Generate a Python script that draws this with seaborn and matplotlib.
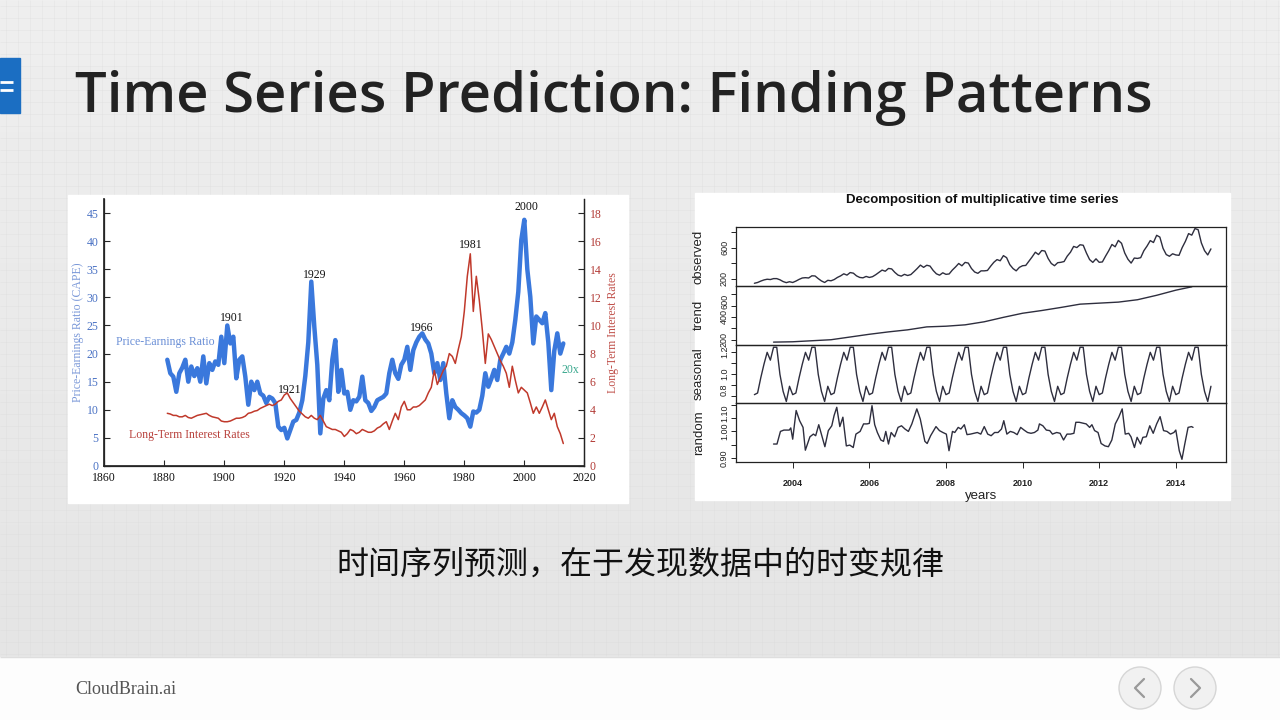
import numpy as np
import matplotlib
matplotlib.use("Agg")
import matplotlib.pyplot as plt
import seaborn as sns
from matplotlib.patches import Rectangle, Circle
from matplotlib.colors import LinearSegmentedColormap

sns.set_theme(style="ticks")
plt.rcParams['font.family'] = ['DejaVu Sans', 'Noto Sans CJK SC']

# ---------------- Left chart data (Shiller CAPE & long-term rates) ----------------
cape_years = list(range(1881, 2014))
cape = [
    18.9, 16.5, 15.9, 13.2, 16.5, 17.5, 18.9, 15.0, 17.7, 16.0,   # 1881-1890
    17.4, 15.0, 19.5, 14.7, 18.3, 17.1, 18.6, 18.0, 23.0, 18.3,   # 1891-1900
    25.0, 21.8, 23.0, 15.6, 18.9, 19.5, 15.9, 10.9, 15.0, 13.5,   # 1901-1910
    15.0, 12.9, 12.5, 11.2, 12.3, 12.0, 11.2, 7.0, 6.4, 6.8,      # 1911-1920
    4.9, 6.4, 7.9, 8.2, 9.5, 11.7, 16.0, 22.0, 32.8, 24.8,        # 1921-1930
    18.0, 5.8, 12.0, 13.5, 11.7, 18.9, 22.4, 13.2, 17.1, 12.9,    # 1931-1940
    13.2, 10.0, 11.7, 11.5, 12.3, 15.9, 11.7, 11.2, 9.8, 10.5,    # 1941-1950
    11.7, 12.0, 12.3, 12.9, 16.5, 18.9, 16.5, 15.5, 18.0, 18.9,   # 1951-1960
    21.2, 17.1, 20.6, 22.0, 23.0, 23.6, 22.5, 21.8, 20.0, 16.5,   # 1961-1970
    18.3, 15.3, 18.3, 12.9, 8.5, 11.7, 10.5, 10.0, 9.4, 9.0,      # 1971-1980
    8.5, 7.0, 9.7, 9.5, 10.0, 12.5, 16.5, 14.1, 15.5, 17.1,       # 1981-1990
    15.3, 18.9, 20.0, 21.2, 20.0, 22.0, 26.0, 31.0, 40.2, 43.8,   # 1991-2000
    35.0, 30.1, 21.8, 26.6, 26.0, 25.4, 27.2, 22.0, 13.5, 20.5,   # 2001-2010
    23.6, 20.0, 21.8,                                             # 2011-2013
]
rate = [
    3.75, 3.7, 3.6, 3.6, 3.5, 3.5, 3.6, 3.45, 3.4, 3.5,
    3.6, 3.65, 3.7, 3.75, 3.6, 3.5, 3.45, 3.4, 3.2, 3.15,
    3.15, 3.2, 3.3, 3.4, 3.4, 3.45, 3.55, 3.75, 3.8, 3.9,
    3.95, 4.1, 4.2, 4.3, 4.4, 4.3, 4.4, 4.6, 4.7, 5.05,
    5.2, 4.8, 4.5, 4.2, 3.9, 3.7, 3.5, 3.4, 3.6, 3.4,
    3.3, 3.6, 3.2, 2.8, 2.7, 2.6, 2.6, 2.5, 2.4, 2.1,
    2.3, 2.6, 2.5, 2.3, 2.4, 2.6, 2.5, 2.4, 2.4, 2.5,
    2.7, 2.8, 3.0, 3.15, 2.6, 3.2, 3.75, 3.3, 4.2, 4.6,
    4.0, 4.0, 4.2, 4.2, 4.3, 4.5, 4.7, 5.2, 5.6, 6.8,
    5.8, 6.3, 6.8, 7.1, 8.0, 7.8, 7.3, 8.3, 9.2, 11.0,
    13.5, 15.1, 11.0, 13.5, 11.8, 9.7, 7.3, 9.4, 9.0, 8.5,
    8.0, 7.5, 7.1, 6.6, 5.6, 7.1, 6.1, 5.2, 5.6, 5.4,
    5.2, 4.5, 3.75, 4.2, 3.75, 4.2, 4.7, 4.0, 3.3, 3.75,
    2.8, 2.3, 1.6,
]
peak_labels = ["1901", "1921", "1929", "1966", "1981", "2000"]
peak_x = [1902.5, 1921.9, 1930.2, 1965.8, 1982.1, 2000.8]
peak_y = [26.3, 13.5, 34.0, 24.5, 39.3, 46.1]
left_xticks = [1860, 1880, 1900, 1920, 1940, 1960, 1980, 2000, 2020]
left_yticks = [0, 5, 10, 15, 20, 25, 30, 35, 40, 45]
right_yticks = [0, 2, 4, 6, 8, 10, 12, 14, 16, 18]

# ---------------- Right chart data (multiplicative decomposition) ----------------
obs_start = 2003
observed = [
    140, 150, 168, 183, 192, 188, 200, 200, 185, 162, 148, 160,   # 2003
    150, 168, 190, 208, 212, 208, 236, 234, 200, 170, 150, 178,   # 2004
    172, 188, 215, 235, 262, 245, 278, 270, 235, 215, 210, 228,   # 2005
    215, 225, 250, 280, 310, 295, 331, 325, 280, 245, 232, 255,   # 2006
    240, 252, 290, 330, 374, 345, 372, 362, 305, 262, 244, 275,   # 2007
    255, 260, 310, 350, 395, 365, 409, 400, 330, 285, 268, 300,   # 2008
    300, 305, 360, 410, 445, 430, 496, 470, 380, 330, 300, 345,   # 2009
    366, 370, 425, 480, 540, 510, 562, 555, 460, 395, 366, 405,   # 2010
    410, 420, 490, 540, 615, 600, 636, 630, 530, 445, 409, 455,   # 2011
    410, 415, 490, 560, 640, 610, 692, 655, 530, 450, 400, 465,   # 2012
    460, 470, 560, 620, 690, 665, 758, 735, 590, 510, 488, 520,   # 2013
    505, 500, 600, 680, 780, 760, 845, 830, 660, 560, 505, 583,   # 2014
]
trend_t = [2003.5, 2004.0, 2004.5, 2005.0, 2005.5, 2006.0, 2006.5, 2007.0, 2007.5,
           2008.0, 2008.5, 2009.0, 2009.5, 2010.0, 2010.5, 2011.0, 2011.5, 2012.0,
           2012.5, 2013.0, 2013.5, 2014.0, 2014.42]
trend_v = [179, 182, 191, 200, 224, 248, 269, 287, 313, 319, 331, 358, 397, 433,
           457, 484, 513, 522, 531, 552, 591, 636, 666]
seasonal_month = [0.81, 0.825, 0.963, 1.086, 1.194, 1.123, 1.24, 1.24, 0.994, 0.84, 0.748, 0.886]
random_t = [2003.50, 2003.59, 2003.68, 2003.77, 2003.91, 2003.95, 2004.00, 2004.09, 2004.18,
            2004.27, 2004.33, 2004.45, 2004.54, 2004.60, 2004.68, 2004.77, 2004.84, 2004.93,
            2005.02, 2005.08, 2005.15, 2005.23, 2005.31, 2005.40, 2005.49, 2005.58, 2005.65,
            2005.76, 2005.85, 2005.94, 2006.00, 2006.07, 2006.14, 2006.21, 2006.30, 2006.37,
            2006.43, 2006.50, 2006.57, 2006.66, 2006.75, 2006.84, 2006.93, 2007.02, 2007.11,
            2007.24, 2007.33, 2007.45, 2007.51, 2007.60, 2007.74, 2007.83, 2007.92, 2008.01,
            2008.08, 2008.17, 2008.23, 2008.32, 2008.39, 2008.48, 2008.55, 2008.64, 2008.73,
            2008.82, 2008.91, 2009.00, 2009.09, 2009.18, 2009.27, 2009.36, 2009.45, 2009.51,
            2009.59, 2009.68, 2009.77, 2009.86, 2009.95, 2010.04, 2010.13, 2010.22, 2010.31,
            2010.40, 2010.44, 2010.53, 2010.62, 2010.71, 2010.78, 2010.89, 2010.98, 2011.07,
            2011.16, 2011.25, 2011.34, 2011.39, 2011.48, 2011.57, 2011.66, 2011.75, 2011.81,
            2011.88, 2011.97, 2012.05, 2012.15, 2012.24, 2012.33, 2012.42, 2012.51, 2012.60,
            2012.68, 2012.77, 2012.83, 2012.92, 2012.99, 2013.08, 2013.14, 2013.23, 2013.32,
            2013.41, 2013.50, 2013.59, 2013.68, 2013.77, 2013.86, 2013.95, 2014.00, 2014.09,
            2014.16, 2014.23, 2014.32, 2014.41, 2014.45]
random_v = [0.953, 0.953, 1.000, 1.005, 1.005, 1.013, 0.971, 1.078, 1.040,
            1.015, 0.930, 0.980, 0.990, 0.984, 1.025, 0.978, 0.943, 1.003,
            1.021, 1.059, 1.090, 1.018, 1.053, 0.946, 0.949, 0.940, 0.990,
            1.000, 1.028, 1.028, 1.030, 1.096, 1.025, 0.996, 0.968, 0.963,
            1.000, 0.953, 0.996, 0.980, 1.015, 1.021, 1.009, 1.000, 1.028,
            1.084, 1.046, 0.963, 0.955, 0.984, 1.018, 1.003, 0.996, 0.990,
            0.928, 1.000, 0.996, 1.015, 1.009, 1.025, 0.988, 0.990, 0.993,
            0.996, 0.990, 1.018, 0.990, 0.984, 0.996, 0.996, 1.009, 1.040,
            0.990, 1.000, 0.996, 0.988, 1.015, 1.005, 0.996, 0.993, 0.996,
            1.005, 1.028, 1.021, 1.005, 1.003, 0.990, 0.996, 0.993, 0.968,
            0.990, 0.990, 0.993, 1.034, 1.034, 1.031, 1.028, 1.015, 1.025,
            1.003, 0.996, 0.955, 0.946, 0.943, 0.968, 1.028, 1.053, 1.084,
            0.990, 0.993, 0.980, 0.940, 0.978, 0.953, 0.978, 0.980, 1.021,
            0.993, 1.028, 1.055, 1.003, 1.000, 0.990, 0.996, 1.005, 0.928,
            0.896, 0.950, 1.015, 1.018, 1.015]
right_xticks = [2004, 2006, 2008, 2010, 2012, 2014]

# ---------------- Figure & slide background ----------------
fig = plt.figure(figsize=(12.8, 7.2), dpi=100)
bg = fig.add_axes([0, 0, 1, 1], zorder=-10)
bg.set_xlim(0, 1280)
bg.set_ylim(720, 0)
bg.axis("off")
grad = np.linspace(0, 1, 256).reshape(-1, 1)
cmap = LinearSegmentedColormap.from_list("bgc", ["#efefef", "#e5e5e5"])
bg.imshow(grad, extent=[0, 1280, 657, 0], cmap=cmap, aspect="auto", zorder=0)
bg.vlines(np.arange(6, 1280, 12), 0, 657, color="#d8d8d8", lw=0.4, alpha=0.45, zorder=1)
bg.hlines(np.arange(6, 657, 12), 0, 1280, color="#d8d8d8", lw=0.4, alpha=0.45, zorder=1)
bg.add_patch(Rectangle((0, 657), 1280, 63, color="#fdfdfd", zorder=2))
bg.hlines(657, 0, 1280, color="#dedede", lw=1, zorder=3)
# title marker
bg.add_patch(Rectangle((0, 58), 20, 55, color="#1b6ec2", zorder=3))
bg.hlines([81.5, 90], 0, 13, color="white", lw=2, zorder=4)
# chart panels
bg.add_patch(Rectangle((68, 195), 560, 308, color="white", zorder=3))
bg.add_patch(Rectangle((695, 193), 535, 307, color="white", zorder=3))
# nav buttons
for cx in (1140, 1195):
    bg.add_patch(Circle((cx, 688), 21, facecolor="#f1f1f1", edgecolor="#d6d6d6", lw=1, zorder=3))
bg.plot([1144, 1135, 1144], [679, 688, 697], color="#9a9a9a", lw=1.6, zorder=4)
bg.plot([1191, 1200, 1191], [679, 688, 697], color="#9a9a9a", lw=1.6, zorder=4)

fig.text(75 / 1280, 1 - 112 / 720, "Time Series Prediction: Finding Patterns",
         fontsize=40.5, fontweight="semibold", family="Open Sans", color="#222222",
         va="baseline", ha="left")
fig.text(0.5, 1 - 565 / 720, "时间序列预测，在于发现数据中的时变规律",
         fontsize=23, family=["Noto Sans CJK SC"], color="#111111", va="center", ha="center")
fig.text(75 / 1280, 1 - 690 / 720, "CloudBrain.ai", fontsize=13, family="Liberation Serif",
         color="#555555", va="center", ha="left")

# ---------------- Left chart ----------------
BLUE = "#3a78dc"
RED = "#c0392b"
serif = "Liberation Serif"
ax1 = fig.add_axes([104.3 / 1280, (720 - 466) / 720, 480 / 1280, 267 / 720])
ax1.set_facecolor("none")
sns.lineplot(x=cape_years, y=cape, ax=ax1, color=BLUE, lw=3.2, estimator=None, sort=False)
ax1.set_xlim(1860, 2020)
ax1.set_ylim(0, 47.5)
ax1.set_xticks(left_xticks)
ax1.set_xticklabels([str(v) for v in left_xticks], family=serif, fontsize=8.5, color="#111111")
ax1.set_yticks(left_yticks)
ax1.set_yticklabels([str(v) for v in left_yticks], family=serif, fontsize=8.5, color="#4a72c4")
ax1.tick_params(axis="both", direction="in", length=4, width=0.8, pad=4)
ax1.set_ylabel("Price-Earnings Ratio (CAPE)", family=serif, fontsize=8.5, color="#7a98d8", labelpad=2)
ax1.set_xlabel("")
ax1.spines["top"].set_visible(False)
for s in ("left", "bottom", "right"):
    ax1.spines[s].set_linewidth(0.9)
    ax1.spines[s].set_color("#222222")

ax2 = ax1.twinx()
sns.lineplot(x=cape_years, y=rate, ax=ax2, color=RED, lw=1.1, estimator=None, sort=False)
ax2.set_ylim(0, 19)
ax2.set_yticks(right_yticks)
ax2.set_yticklabels([str(v) for v in right_yticks], family=serif, fontsize=8.5, color="#b23a35")
ax2.tick_params(axis="y", direction="in", length=4, width=0.8, pad=4)
ax2.set_ylabel("Long-Term Interest Rates", family=serif, fontsize=8.5, color="#c0504a", labelpad=4)
ax2.spines["top"].set_visible(False)
ax2.spines["right"].set_linewidth(0.9)
ax2.spines["right"].set_color("#222222")

for lab, x, y in zip(peak_labels, peak_x, peak_y):
    ax1.text(x, y, lab, family=serif, fontsize=8.5, color="#111111", ha="center", va="center")
ax1.text(1880.2, 22.1, "Price-Earnings Ratio", family=serif, fontsize=8.5, color="#6a8fd6",
         ha="center", va="center")
ax1.text(1888.2, 5.5, "Long-Term Interest Rates", family=serif, fontsize=8.5, color="#b8413c",
         ha="center", va="center")
ax1.text(2015.3, 17.1, "20x", family=serif, fontsize=8.5, color="#3aa88e", ha="center", va="center")

# ---------------- Right chart ----------------
sans = "Liberation Sans"
LINE = "#2e2e3e"
obs_t = [obs_start + i / 12 for i in range(len(observed))]
seasonal = list(np.tile(seasonal_month, len(observed) // 12))
panels = [
    ("observed", obs_t, observed, (108, 865), [200, 400, 600, 800], ["200", "", "600", ""]),
    ("trend", trend_t, trend_v, (158, 675), [200, 300, 400, 500, 600], ["200", "", "400", "", "600"]),
    ("seasonal", obs_t, seasonal, (0.732, 1.265), [0.8, 0.9, 1.0, 1.1, 1.2], ["0.8", "", "1.0", "", "1.2"]),
    ("random", random_t, random_v, (0.886, 1.105), [0.90, 0.95, 1.00, 1.05, 1.10], ["0.90", "", "1.00", "", "1.10"]),
]
top = 227.0
ph = 58.75
for i, (name, tx, vy, ylim, ticks, labels) in enumerate(panels):
    y0 = top + i * ph
    ax = fig.add_axes([736 / 1280, (720 - (y0 + ph)) / 720, 490 / 1280, ph / 720])
    ax.set_facecolor("none")
    sns.lineplot(x=tx, y=vy, ax=ax, color=LINE, lw=1.0, estimator=None, sort=False)
    ax.set_xlim(2002.52, 2015.31)
    ax.set_ylim(*ylim)
    ax.set_yticks(ticks)
    ax.set_yticklabels(labels, family=sans, fontsize=6.5, color="#222222", rotation=90,
                       va="center", ha="right")
    ax.tick_params(axis="y", direction="out", length=3.5, width=0.7, pad=1.5, colors="#222222")
    ax.set_ylabel(name, family=sans, fontsize=9.5, color="#222222")
    ax.yaxis.set_label_coords(-31 / 490, 0.5)
    for s in ax.spines.values():
        s.set_linewidth(0.9)
        s.set_color("#222222")
        s.set_visible(True)
    tl = ax.get_yticklabels()
    if name == "random":
        tl[-1].set_va("top")      # keep the top label inside its own panel
    if name == "seasonal":
        tl[0].set_va("bottom")
    if name == "trend":
        tl[-1].set_va("top")
    if i < 3:
        ax.set_xticks([])
        ax.set_xlabel("")
    else:
        ax.set_xticks(right_xticks)
        ax.set_xticklabels([str(v) for v in right_xticks], family=sans, fontsize=6.5,
                           fontweight="bold", color="#222222")
        ax.tick_params(axis="x", direction="out", length=4, width=0.7, pad=8)
        ax.set_xlabel("years", family=sans, fontsize=9.5, color="#222222", labelpad=2)

fig.text(982 / 1280, 1 - 200 / 720, "Decomposition of multiplicative time series",
         family=sans, fontsize=9.5, fontweight="bold", color="#111111", ha="center", va="center")

fig.savefig("out.png", dpi=100)
